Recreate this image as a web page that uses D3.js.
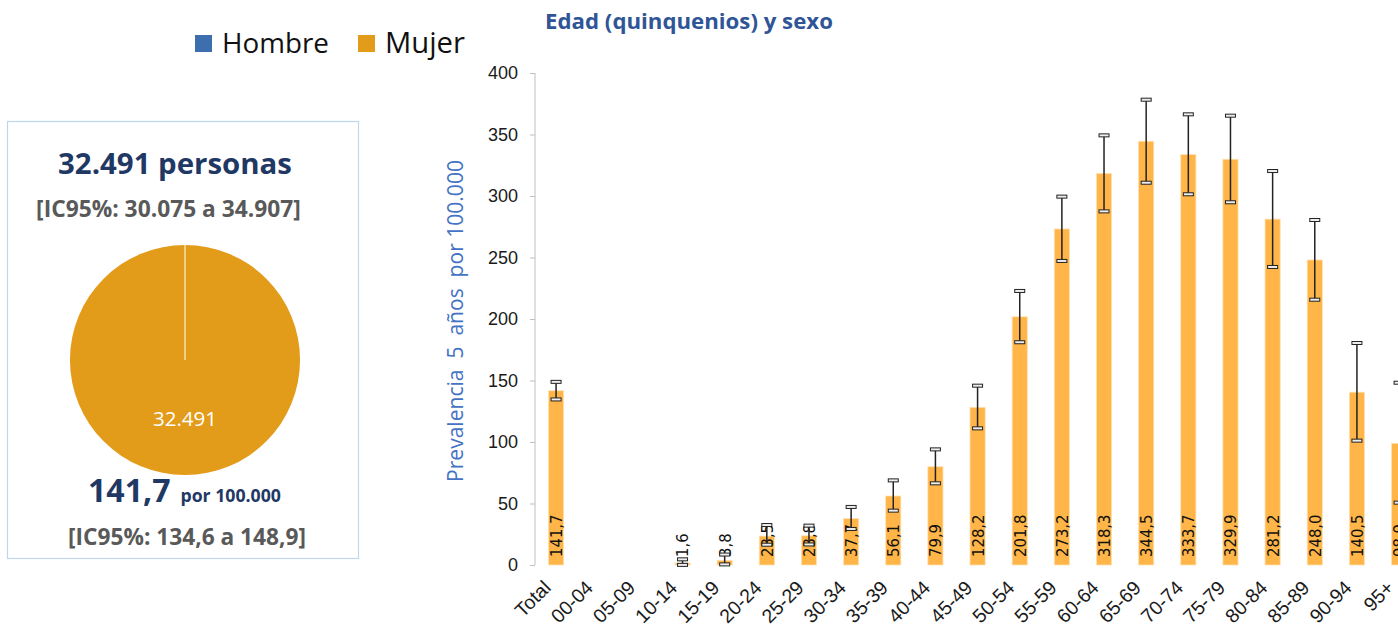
<!DOCTYPE html>
<html><head><meta charset="utf-8">
<script src="https://cdn.jsdelivr.net/npm/d3@7"></script>
<style>
html,body{margin:0;padding:0;background:#fff;overflow:hidden}
svg{display:block}
</style></head>
<body>
<svg id="c" width="1398" height="625"></svg>
<script>
// ---- data ----
const categories = ["Total","00-04","05-09","10-14","15-19","20-24","25-29","30-34","35-39","40-44","45-49","50-54","55-59","60-64","65-69","70-74","75-79","80-84","85-89","90-94","95+"];
const values = [141.7,null,null,1.6,3.8,23.5,23.8,37.7,56.1,79.9,128.2,201.8,273.2,318.3,344.5,333.7,329.9,281.2,248.0,140.5,98.9];
const lower  = [134.6,null,null,0.1,0.5,16.5,16.7,29.3,44.2,66.4,111.1,181.1,247.2,287.5,310.8,301.4,294.9,242.3,215.7,101.1,50.7];
const upper  = [148.9,null,null,4.6,8.5,32.5,32.0,47.2,68.8,94.0,145.8,222.8,299.5,349.3,378.3,366.4,365.3,320.3,280.5,180.5,148.2];
const yTicks = [0,50,100,150,200,250,300,350,400];
const pieLabels = ["Hombre","Mujer"];
const pieValues = [0,32491];
const pieTexts = {total:"32.491 personas", ci:"[IC95%: 30.075 a 34.907]", rate:"141,7", rateUnit:"por 100.000", rateCi:"[IC95%: 134,6 a 148,9]", slice:"32.491"};
const chartTitle = "Edad (quinquenios) y sexo";
const yTitle = "Prevalencia  5  años  por 100.000";

const svg = d3.select("#c");
const fmt = v => d3.format(".1f")(v).replace(".", ",");
const SANS = "'Open Sans', Lato, sans-serif";
function fit(sel, w){
  const cur = sel.node().getComputedTextLength();
  const fs = +sel.attr("font-size");
  if(cur>0) sel.attr("font-size", (fs*w/cur).toFixed(2));
  return sel;
}

// ---- legend ----
const legendColors = ["#3D6EAE","#E39B1A"];
const lg = svg.append("g");
const legX = [195, 358];
const legW = [107, 80];
pieLabels.forEach((l,i)=>{
  lg.append("rect").attr("x",legX[i]).attr("y",35).attr("width",17).attr("height",17).attr("fill",legendColors[i]);
  const t = lg.append("text").attr("x",legX[i]+27).attr("y",53).text(l)
    .attr("font-family",SANS).attr("font-size",25).attr("fill","#111");
  fit(t, legW[i]);
});

// ---- left panel ----
svg.append("rect").attr("x",7.5).attr("y",121.5).attr("width",351).attr("height",437)
  .attr("fill","none").attr("stroke","#BDD7EE").attr("stroke-width",1.2);
fit(svg.append("text").attr("x",175).attr("y",174).attr("text-anchor","middle")
  .attr("font-family",SANS).attr("font-weight","bold").attr("font-size",29)
  .attr("fill","#1F3864").text(pieTexts.total), 234);
fit(svg.append("text").attr("x",168.5).attr("y",217).attr("text-anchor","middle")
  .attr("font-family",SANS).attr("font-weight","bold").attr("font-size",21)
  .attr("fill","#595959").text(pieTexts.ci), 265);

const pieG = svg.append("g").attr("transform","translate(185,360)");
const arcs = d3.pie().sort(null)(pieValues);
const arcGen = d3.arc().innerRadius(0).outerRadius(115);
pieG.selectAll("path").data(arcs).join("path")
  .attr("d",arcGen).attr("fill",(d,i)=>legendColors[i]).attr("stroke","none");
pieG.append("line").attr("x1",0).attr("y1",0).attr("x2",0).attr("y2",-115).attr("stroke","#fff").attr("stroke-width",1);
const lblArc = d3.arc().innerRadius(57).outerRadius(57);
arcs.forEach((a,i)=>{
  if(a.value>0){
    const c = lblArc.centroid(a);
    fit(pieG.append("text").attr("x",c[0]).attr("y",c[1]+9).attr("text-anchor","middle")
      .attr("font-family",SANS).attr("font-size",18).attr("fill","#fff").text(pieTexts.slice), 64);
  }
});
const rt = svg.append("text").attr("x",184.5).attr("y",502).attr("text-anchor","middle")
  .attr("font-family",SANS).attr("font-weight","bold").attr("fill","#1F3864");
const rt1 = rt.append("tspan").attr("font-size",29).text(pieTexts.rate);
const rt2 = rt.append("tspan").attr("font-size",16).attr("dx",9).text(pieTexts.rateUnit);
{
  const cur = rt.node().getComputedTextLength() + 9;
  const k = 193/cur;
  rt1.attr("font-size",(29*k).toFixed(2));
  rt2.attr("font-size",(16*k).toFixed(2)).attr("dx",(9*k).toFixed(2));
}
fit(svg.append("text").attr("x",187).attr("y",545).attr("text-anchor","middle")
  .attr("font-family",SANS).attr("font-weight","bold").attr("font-size",21)
  .attr("fill","#595959").text(pieTexts.rateCi), 238);

// ---- bar chart ----
const x0 = 535, step = 42.15;
const x = d3.scaleBand().domain(categories).range([x0, x0+step*categories.length]).paddingInner(0.64).paddingOuter(0.32);
const y = d3.scaleLinear().domain([0,400]).range([565,73]);

fit(svg.append("text").attr("x",689).attr("y",29).attr("text-anchor","middle")
  .attr("font-family",SANS).attr("font-weight","bold").attr("font-size",20)
  .attr("fill","#2F5597").text(chartTitle), 288);

fit(svg.append("text").attr("transform","translate(463,321) rotate(-90)").attr("text-anchor","middle")
  .attr("font-family",SANS).attr("font-size",19).attr("fill","#4472C4")
  .style("white-space","pre").attr("xml:space","preserve").text(yTitle), 322);

const yAxis = svg.append("g").attr("transform",`translate(${x0},0)`)
  .call(d3.axisLeft(y).tickValues(yTicks).tickSize(5).tickPadding(12).tickFormat(d3.format("d")));
yAxis.select(".domain").attr("stroke","#BFBFBF").attr("d","M0,73V565");
yAxis.selectAll(".tick line").attr("stroke","#BFBFBF");
yAxis.selectAll(".tick text").attr("font-family","'Liberation Sans', Arial, sans-serif").attr("font-size",18).attr("fill","#1a1a1a");

const xAxis = svg.append("g").attr("transform","translate(0,565)")
  .call(d3.axisBottom(x).tickSize(0).tickPadding(0));
xAxis.select(".domain").remove();
xAxis.selectAll(".tick text")
  .attr("font-family","'Liberation Sans', Arial, sans-serif").attr("font-size",19.5).attr("fill","#1a1a1a")
  .attr("text-anchor","end").attr("dy",0).attr("y",0)
  .attr("transform","translate(-4,24) rotate(-45)");

const data = categories.map((c,i)=>({c, v:values[i], lo:lower[i], hi:upper[i]})).filter(d=>d.v!=null);
const bw = x.bandwidth();
svg.append("g").selectAll("rect").data(data).join("rect")
  .attr("x",d=>x(d.c)).attr("width",bw).attr("y",d=>y(d.v)).attr("height",d=>y(0)-y(d.v))
  .attr("fill","#FFB547").attr("stroke","#FFE2B5").attr("stroke-width",0.8);

// labels
svg.append("g").selectAll("text").data(data).join("text")
  .attr("transform",d=>`translate(${x(d.c)+bw/2},557) rotate(-90)`)
  .attr("dy","0.36em").attr("text-anchor","start")
  .attr("font-family","'Liberation Sans Narrow', 'DejaVu Sans Condensed', sans-serif").attr("font-stretch","condensed")
  .attr("font-size",16.5).attr("fill","#111").text(d=>fmt(d.v));

// error bars
const eb = svg.append("g");
data.forEach(d=>{
  const cx = x(d.c)+bw/2;
  eb.append("line").attr("x1",cx).attr("x2",cx).attr("y1",y(d.hi)).attr("y2",y(d.lo)).attr("stroke","#222").attr("stroke-width",1.5);
  [d.hi,d.lo].forEach(v=>{
    eb.append("rect").attr("x",cx-5).attr("y",y(v)-1.5).attr("width",10).attr("height",3)
      .attr("fill","#eee").attr("stroke","#222").attr("stroke-width",1);
  });
});
</script>
</body></html>
